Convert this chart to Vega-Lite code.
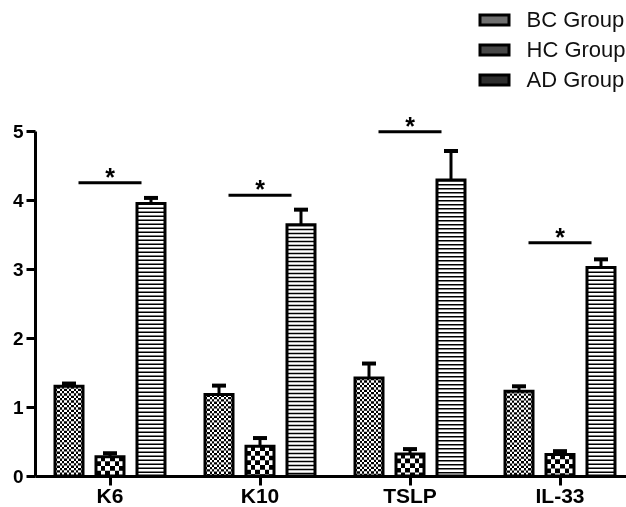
{
  "$schema": "https://vega.github.io/schema/vega-lite/v6.json",
  "width": 591,
  "height": 345,
  "autosize": "none",
  "padding": {"left": 35, "top": 131, "right": 0, "bottom": 31},
  "background": "white",
  "config": {"view": {"stroke": null}, "font": "Liberation Sans"},
  "datasets": {
    "bars": [
      {"cat": "K6", "group": "BC Group", "value": 1.30, "err": 1.34},
      {"cat": "K6", "group": "HC Group", "value": 0.28, "err": 0.33},
      {"cat": "K6", "group": "AD Group", "value": 3.95, "err": 4.03},
      {"cat": "K10", "group": "BC Group", "value": 1.18, "err": 1.31},
      {"cat": "K10", "group": "HC Group", "value": 0.43, "err": 0.55},
      {"cat": "K10", "group": "AD Group", "value": 3.64, "err": 3.86},
      {"cat": "TSLP", "group": "BC Group", "value": 1.42, "err": 1.63},
      {"cat": "TSLP", "group": "HC Group", "value": 0.32, "err": 0.39},
      {"cat": "TSLP", "group": "AD Group", "value": 4.29, "err": 4.71},
      {"cat": "IL-33", "group": "BC Group", "value": 1.23, "err": 1.30},
      {"cat": "IL-33", "group": "HC Group", "value": 0.31, "err": 0.36},
      {"cat": "IL-33", "group": "AD Group", "value": 3.02, "err": 3.14}
    ],
    "sig": [
      {"cat": "K6", "line": 4.25, "label": "*"},
      {"cat": "K10", "line": 4.07, "label": "*"},
      {"cat": "TSLP", "line": 4.99, "label": "*"},
      {"cat": "IL-33", "line": 3.38, "label": "*"}
    ]
  },
  "data": {"name": "bars"},
  "encoding": {
    "x": {
      "field": "cat", "type": "nominal",
      "sort": ["K6", "K10", "TSLP", "IL-33"],
      "scale": {"domain": ["K6", "K10", "TSLP", "IL-33"], "range": [0, 600], "paddingInner": 0, "paddingOuter": 0},
      "axis": {
        "title": null, "labelAngle": 0, "labelFontSize": 21, "labelFontWeight": "bold",
        "labelColor": "#000", "labelPadding": 0, "tickSize": 9, "tickWidth": 3, "tickColor": "#000",
        "domainWidth": 3, "domainColor": "#000", "grid": false
      }
    }
  },
  "layer": [
    {
      "transform": [{"filter": "datum.group === 'BC Group'"}],
      "mark": {"type": "bar", "fill": {"gradient": "linear", "x1": 0, "y1": 0, "x2": 1, "y2": 0, "stops": [{"offset":0,"color":"#000"},{"offset":0.0833,"color":"#000"},{"offset":0.0833,"color":"#fff"},{"offset":0.1667,"color":"#fff"},{"offset":0.1667,"color":"#000"},{"offset":0.25,"color":"#000"},{"offset":0.25,"color":"#fff"},{"offset":0.3333,"color":"#fff"},{"offset":0.3333,"color":"#000"},{"offset":0.4167,"color":"#000"},{"offset":0.4167,"color":"#fff"},{"offset":0.5,"color":"#fff"},{"offset":0.5,"color":"#000"},{"offset":0.5833,"color":"#000"},{"offset":0.5833,"color":"#fff"},{"offset":0.6667,"color":"#fff"},{"offset":0.6667,"color":"#000"},{"offset":0.75,"color":"#000"},{"offset":0.75,"color":"#fff"},{"offset":0.8333,"color":"#fff"},{"offset":0.8333,"color":"#000"},{"offset":0.9167,"color":"#000"},{"offset":0.9167,"color":"#fff"},{"offset":1,"color":"#fff"}]}, "stroke": null},
      "encoding": {
        "xOffset": {"field": "group", "type": "nominal", "scale": {"domain": ["BC Group", "HC Group", "AD Group"], "paddingInner": 0.317, "paddingOuter": 0.488}},
        "y": {"field": "value", "type": "quantitative", "scale": {"domain": [0, 5], "nice": false},
          "axis": {"title": null, "values": [0, 1, 2, 3, 4, 5], "format": "d", "labelFontSize": 19, "labelFontWeight": "bold", "labelColor": "#000", "labelPadding": 3, "tickSize": 9, "tickWidth": 3, "tickColor": "#000", "domainWidth": 3, "domainColor": "#000", "grid": false}}
      }
    },
    {
      "transform": [{"filter": "datum.group === 'HC Group'"}],
      "mark": {"type": "bar", "fill": {"gradient": "linear", "x1": 0, "y1": 0, "x2": 1, "y2": 0, "stops": [{"offset":0,"color":"#000"},{"offset":0.1667,"color":"#000"},{"offset":0.1667,"color":"#fff"},{"offset":0.3333,"color":"#fff"},{"offset":0.3333,"color":"#000"},{"offset":0.5,"color":"#000"},{"offset":0.5,"color":"#fff"},{"offset":0.6667,"color":"#fff"},{"offset":0.6667,"color":"#000"},{"offset":0.8333,"color":"#000"},{"offset":0.8333,"color":"#fff"},{"offset":1,"color":"#fff"}]}, "stroke": null},
      "encoding": {
        "xOffset": {"field": "group", "type": "nominal", "scale": {"domain": ["BC Group", "HC Group", "AD Group"]}},
        "y": {"field": "value", "type": "quantitative"}
      }
    },
    {
      "transform": [{"filter": "datum.group === 'AD Group'"}],
      "mark": {"type": "bar", "fill": "#fff", "stroke": null},
      "encoding": {
        "xOffset": {"field": "group", "type": "nominal", "scale": {"domain": ["BC Group", "HC Group", "AD Group"]}},
        "y": {"field": "value", "type": "quantitative"}
      }
    },
    {
      "transform": [{"filter": "datum.group === 'BC Group'"}],
      "mark": {"type": "rule", "color": "#fff", "strokeWidth": 28, "strokeDash": [2.333, 2.333], "strokeCap": "butt", "blend": "difference"},
      "encoding": {
        "xOffset": {"field": "group", "type": "nominal", "scale": {"domain": ["BC Group", "HC Group", "AD Group"]}},
        "y": {"field": "value", "type": "quantitative"},
        "y2": {"datum": 0}
      }
    },
    {
      "transform": [{"filter": "datum.group === 'HC Group'"}],
      "mark": {"type": "rule", "color": "#fff", "strokeWidth": 28, "strokeDash": [4.667, 4.667], "strokeCap": "butt", "blend": "difference"},
      "encoding": {
        "xOffset": {"field": "group", "type": "nominal", "scale": {"domain": ["BC Group", "HC Group", "AD Group"]}},
        "y": {"field": "value", "type": "quantitative"},
        "y2": {"datum": 0}
      }
    },
    {
      "transform": [{"filter": "datum.group === 'AD Group'"}],
      "mark": {"type": "rule", "color": "#000", "strokeWidth": 28, "strokeDash": [1.5, 2.5], "strokeCap": "butt"},
      "encoding": {
        "xOffset": {"field": "group", "type": "nominal", "scale": {"domain": ["BC Group", "HC Group", "AD Group"]}},
        "y": {"field": "value", "type": "quantitative"},
        "y2": {"datum": 0}
      }
    },
    {
      "mark": {"type": "bar", "fillOpacity": 0, "stroke": "#000", "strokeWidth": 3},
      "encoding": {
        "xOffset": {"field": "group", "type": "nominal", "scale": {"domain": ["BC Group", "HC Group", "AD Group"]}},
        "y": {"field": "value", "type": "quantitative"},
        "fill": {
          "field": "group", "type": "nominal",
          "scale": {"domain": ["BC Group", "HC Group", "AD Group"], "range": ["#707070", "#484848", "#2e2e2e"]},
          "legend": {
            "title": null, "orient": "none", "legendX": 443.5, "legendY": -127, "padding": 0,
            "symbolType": "M-1,-0.35H1V0.35H-1Z", "symbolSize": 841, "symbolStrokeColor": "#000", "symbolStrokeWidth": 3,
            "symbolOpacity": 1, "labelFontSize": 22, "labelColor": "#111", "labelOffset": 16, "rowPadding": 2,
            "encode": {"symbols": {"update": {"fillOpacity": {"value": 1}, "opacity": {"value": 1}}}}
          }
        }
      }
    },
    {
      "mark": {"type": "rule", "color": "#000", "strokeWidth": 3},
      "encoding": {
        "xOffset": {"field": "group", "type": "nominal", "scale": {"domain": ["BC Group", "HC Group", "AD Group"]}},
        "y": {"field": "value", "type": "quantitative"},
        "y2": {"field": "err"}
      }
    },
    {
      "mark": {"type": "tick", "orient": "horizontal", "color": "#000", "size": 14, "thickness": 4, "opacity": 1},
      "encoding": {
        "xOffset": {"field": "group", "type": "nominal", "scale": {"domain": ["BC Group", "HC Group", "AD Group"]}},
        "y": {"field": "err", "type": "quantitative"}
      }
    },
    {
      "data": {"name": "sig"},
      "mark": {"type": "tick", "orient": "horizontal", "color": "#000", "size": 63, "thickness": 3, "opacity": 1},
      "encoding": {
        "y": {"field": "line", "type": "quantitative"}
      }
    },
    {
      "data": {"name": "sig"},
      "mark": {"type": "text", "fontSize": 25, "fontWeight": "bold", "color": "#000", "baseline": "alphabetic", "dy": 3},
      "encoding": {
        "y": {"field": "line", "type": "quantitative"},
        "text": {"field": "label"}
      }
    }
  ]
}
